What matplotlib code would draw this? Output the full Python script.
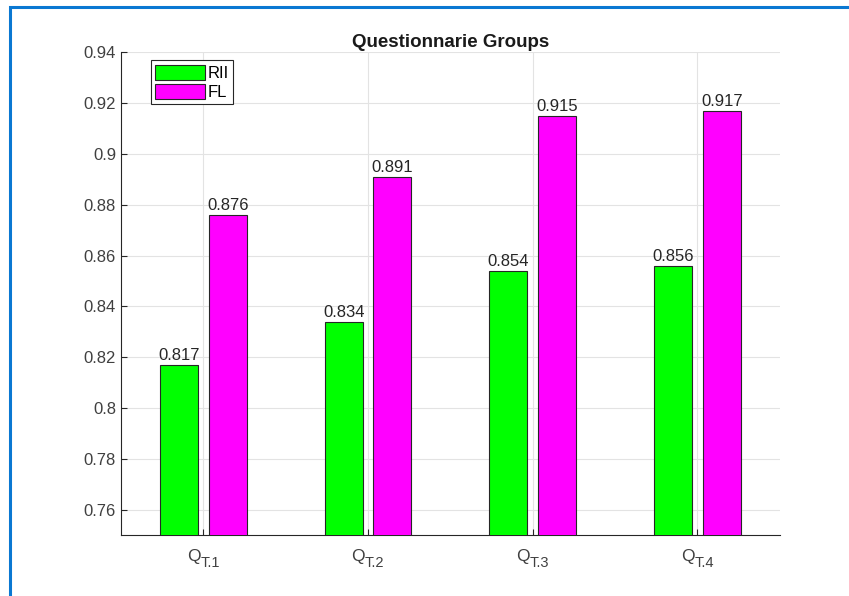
import numpy as np
import matplotlib.pyplot as plt
from matplotlib.patches import Rectangle

plt.rcParams['font.family'] = ['Liberation Sans', 'DejaVu Sans']

groups = ['T.1', 'T.2', 'T.3', 'T.4']
rii = [0.817, 0.834, 0.854, 0.856]
fl = [0.876, 0.891, 0.915, 0.917]

fig = plt.figure(figsize=(8.49, 5.96), dpi=100)
ax = fig.add_axes([0.1425, 0.1023, 0.776, 0.810])

x = np.arange(1, len(groups) + 1)
w = 0.23
off = 0.148
b1 = ax.bar(x - off, rii, w, color='#00ff00', edgecolor='#262626', linewidth=0.8, label='RII', zorder=3)
b2 = ax.bar(x + off, fl, w, color='#ff00ff', edgecolor='#262626', linewidth=0.8, label='FL', zorder=3)

for bars, vals in [(b1, rii), (b2, fl)]:
    for b, v in zip(bars, vals):
        ax.text(b.get_x() + b.get_width() / 2, v + 0.0006, f'{v:.3f}',
                ha='center', va='bottom', fontsize=12, color='#262626')

ax.set_xlim(0.5, 4.5)
ax.set_ylim(0.75, 0.94)
ax.set_yticks(np.arange(0.76, 0.941, 0.02))
ax.set_yticklabels(['0.76', '0.78', '0.8', '0.82', '0.84', '0.86', '0.88', '0.9', '0.92', '0.94'])
ax.set_xticks(x)
ax.set_xticklabels([''] * len(groups))
ax.tick_params(direction='in', length=4, color='#262626', labelcolor='#404040', labelsize=12)
ax.grid(True, color='#e3e3e3', linewidth=0.8, zorder=0)
ax.set_axisbelow(True)
for s in ['top', 'right']:
    ax.spines[s].set_visible(False)
for s in ['left', 'bottom']:
    ax.spines[s].set_color('#262626')

# Q with subscript T.n as tick labels
for xi, g in zip(x, groups):
    ax.annotate('Q', xy=(xi, 0), xycoords=('data', 'axes fraction'),
                xytext=(-3, -14), textcoords='offset pixels',
                ha='right', va='top', fontsize=12.5, color='#404040')
    ax.annotate(g, xy=(xi, 0), xycoords=('data', 'axes fraction'),
                xytext=(-3, -21), textcoords='offset pixels',
                ha='left', va='top', fontsize=10.5, color='#404040')

ax.set_title('Questionnarie Groups', fontsize=13.5, fontweight='bold', color='#1a1a1a', pad=4)

leg = ax.legend(loc='upper left', bbox_to_anchor=(0.045, 0.983), fontsize=12,
                handlelength=3.0, handleheight=1.0, handletextpad=0.15,
                borderpad=0.25, labelspacing=0.2, fancybox=False, framealpha=1,
                borderaxespad=0)
leg.get_frame().set_edgecolor('#262626')
leg.get_frame().set_linewidth(0.8)

fig.patches.append(Rectangle((10 / 849, -0.1), 1.2, 1 - 7 / 596 + 0.1, transform=fig.transFigure,
                             fill=False, edgecolor='#0a78d2', linewidth=2.2))

fig.savefig('out.png', dpi=100)
